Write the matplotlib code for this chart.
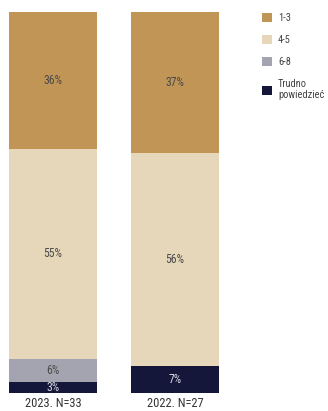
import matplotlib
matplotlib.use("Agg")
import matplotlib.pyplot as plt
from matplotlib import font_manager
from matplotlib.patches import Patch

# Prefer a narrow face if one is installed
names = {f.name for f in font_manager.fontManager.ttflist}
family = "DejaVu Sans"
for cand in ["Liberation Sans Narrow", "DejaVu Sans Condensed", "Roboto Condensed",
             "Open Sans Condensed", "Noto Sans Condensed"]:
    if cand in names:
        family = cand
        break
plt.rcParams["font.family"] = [family, "DejaVu Sans"]

years = ["2023. N=33", "2022. N=27"]
categories = ["Trudno\npowiedzieć", "6-8", "4-5", "1-3"]
values = {
    "Trudno\npowiedzieć": [3, 7],
    "6-8": [6, 0],
    "4-5": [55, 56],
    "1-3": [36, 37],
}
colors = {
    "Trudno\npowiedzieć": "#14163a",
    "6-8": "#a3a4b0",
    "4-5": "#e6d6ba",
    "1-3": "#c09555",
}
text_colors = {
    "Trudno\npowiedzieć": "#d8d8e0",
    "6-8": "#4a4a4a",
    "4-5": "#4a4a4a",
    "1-3": "#4a4a4a",
}

fig = plt.figure(figsize=(3.28, 4.11), dpi=100)
ax = fig.add_axes([9 / 328, 1 - 393 / 411, 210 / 328, 381 / 411])

x = list(range(len(years)))
bottom = [0] * len(years)
for cat in categories:
    vals = values[cat]
    ax.bar(x, vals, width=0.72, bottom=bottom, color=colors[cat], linewidth=0)
    for xi, v, b in zip(x, vals, bottom):
        if v > 0:
            ax.text(xi, b + v / 2, f"{v}%", ha="center", va="center",
                    fontsize=8.5, color=text_colors[cat])
    bottom = [b + v for b, v in zip(bottom, vals)]

ax.set_xlim(-0.36, 1.36)
ax.set_ylim(0, 100)
ax.set_xticks(x)
ax.set_xticklabels(years, fontsize=9, color="#333333")
ax.tick_params(axis="x", length=0, pad=3)
ax.set_yticks([])
for s in ax.spines.values():
    s.set_visible(False)

handles = [Patch(facecolor=colors[c], edgecolor="none", label=c) for c in categories[::-1]]
fig.legend(handles=handles, loc="upper left", bbox_to_anchor=(0.77, 0.992),
           frameon=False, fontsize=7.5, handlelength=0.95, handleheight=0.95,
           handletextpad=0.6, labelspacing=1.15, labelcolor="#444444")

fig.savefig("out.png", dpi=100)
